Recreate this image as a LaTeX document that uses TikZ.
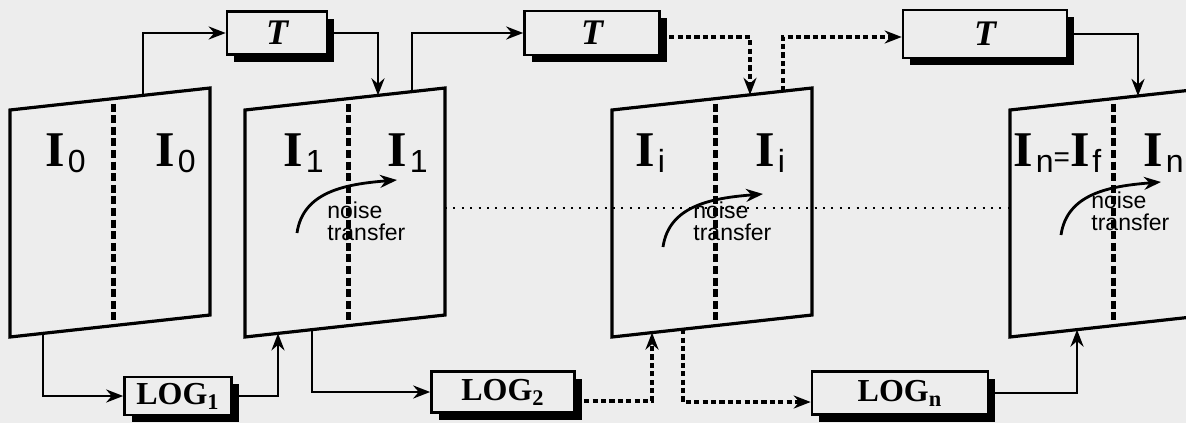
\documentclass[tikz,border=0pt]{standalone}
\usepackage{fontspec}
\setmainfont{Liberation Serif}
\setsansfont{Liberation Sans}
\usetikzlibrary{calc,
	arrows.meta,
	shadows}
\definecolor{paper}{gray}{0.93}
\tikzstyle{pnl}=[line width=1.6pt, line join=miter]
\tikzstyle{box}=[draw, line width=1.3pt, fill=paper, inner sep=0,
		general shadow={fill=black, shadow xshift=3.5pt, shadow yshift=-3.5pt},
		font=\fontsize{16}{16}\selectfont\bfseries]
\tikzstyle{tbox}=[box, font=\fontsize{18}{18}\selectfont\bfseries\itshape]
\tikzstyle{conn}=[line width=1.4pt, -{Stealth[length=8.5pt,width=6.5pt]}]
\tikzstyle{dconn}=[line width=2.4pt, dash pattern=on 2.6pt off 1.6pt,
		-{Stealth[length=8.5pt,width=6.5pt]}]
\tikzstyle{divl}=[line width=2.5pt, dash pattern=on 4pt off 1.8pt]
\tikzstyle{hdot}=[line width=1pt, dash pattern=on 1pt off 3.2pt]
\tikzstyle{lab}=[anchor=base west, inner sep=0, font=\fontsize{25}{25}\selectfont]
\tikzstyle{nz}=[anchor=base west, inner sep=0, align=left,
		font=\fontsize{11.5}{11}\selectfont\sffamily]
\newcommand{\Isub}[1]{\textbf{I}\hspace{1.5pt}\raisebox{-3pt}{\fontsize{16}{16}\selectfont\sffamily #1}}

\begin{document}
\begin{tikzpicture}[x=0.5pt, y=-0.5pt]
	\useasboundingbox (0,0) rectangle (1186,423);
	\fill[paper] (0,0) rectangle (1186,423);
	\clip (0,0) rectangle (1186,423);
	% the four image panels
	\foreach \p/\x in {0/10, 1/245, i/612, n/1010}{
		\coordinate (p\p-tl) at (\x,110);
		\coordinate (p\p-tr) at (\x+200,88);
		\coordinate (p\p-br) at (\x+200,315);
		\coordinate (p\p-bl) at (\x,337);
		\draw[pnl] (p\p-tl) -- (p\p-tr) -- (p\p-br) -- (p\p-bl) -- cycle;
		\draw[divl] ($(p\p-tl)!0.515!(p\p-tr)+(0,5)$) -- ($(p\p-bl)!0.515!(p\p-br)+(0,-4)$);
	}
	\node[lab] (l0a) at (45,166) {\Isub{0}};
	\node[lab] (l0b) at (155,166) {\Isub{0}};
	\node[lab] (l1a) at (283,166) {\Isub{1}};
	\node[lab] (l1b) at (387,166) {\Isub{1}};
	\node[lab] (lia) at (635,166) {\Isub{i}};
	\node[lab] (lib) at (755,166) {\Isub{i}};
	\node[lab] (lna) at (1013,166) {\Isub{n}{\fontsize{14}{14}\selectfont\sffamily=}\Isub{f}};
	\node[lab] (lnb) at (1143,166) {\Isub{n}};
	% noise transfer
	\foreach \p/\sx/\sy/\ty in {1/297/233/240, i/663/247/240, n/1061/235/230}{
		\coordinate (ns\p) at (\sx,\sy);
		\coordinate (ne\p) at (\sx+100,\sy-53);
		\draw[conn] (ns\p) .. controls +(6,-42) and +(-50,4) .. (ne\p);
		\node[nz] (nt\p) at (\sx+30,\ty) {noise\\transfer};
	}
	\coordinate (h1) at ($(p1-tr)!0.53!(p1-br)$);
	\draw[hdot] (h1) -- (h1 -| pn-tl);
	% boxes
	\node[tbox, minimum width=50pt, minimum height=21.5pt] (T1) at (277,33) {T};
	\node[tbox, minimum width=67.5pt, minimum height=22pt] (T2) at (592,33) {T};
	\node[tbox, minimum width=82pt, minimum height=24pt] (T3) at (985,34) {T};
	\node[box, minimum width=53.5pt, minimum height=19pt] (LOG1) at (178,396) {LOG\textsubscript{1}};
	\node[box, minimum width=71.5pt, minimum height=20.5pt] (LOG2) at (503,392) {LOG\textsubscript{2}};
	\node[box, minimum width=88pt, minimum height=21.5pt] (LOGn) at (900,393) {LOG\textsubscript{n}};
	% connector ends on the panels
	\coordinate (p0-up) at ($(p0-tl)!0.665!(p0-tr)$);
	\coordinate (p1-in) at ($(p1-tl)!0.665!(p1-tr)$);
	\coordinate (p1-up) at ($(p1-tl)!0.835!(p1-tr)$);
	\coordinate (pi-in) at ($(pi-tl)!0.69!(pi-tr)$);
	\coordinate (pi-up) at ($(pi-tl)!0.855!(pi-tr)$);
	\coordinate (pn-in) at ($(pn-tl)!0.64!(pn-tr)$);
	\coordinate (p0-dn) at ($(p0-bl)!0.165!(p0-br)$);
	\coordinate (p1-bi) at ($(p1-bl)!0.165!(p1-br)$);
	\coordinate (p1-dn) at ($(p1-bl)!0.335!(p1-br)$);
	\coordinate (pi-bi) at ($(pi-bl)!0.2!(pi-br)$);
	\coordinate (pi-dn) at ($(pi-bl)!0.355!(pi-br)$);
	\coordinate (pn-bi) at ($(pn-bl)!0.335!(pn-br)$);
	% connectors
	\draw[conn] (p0-up) |- (T1);
	\draw[conn] (T1) -| (p1-in);
	\draw[conn] (p1-up) |- (T2);
	\draw[dconn] ([yshift=-2pt]T2.east) -| (pi-in);
	\draw[dconn] (pi-up) |- ([yshift=-1.5pt]T3.west);
	\draw[conn] (T3) -| (pn-in);
	\draw[conn] (p0-dn) |- (LOG1);
	\draw[conn] (LOG1) -| (p1-bi);
	\draw[conn] (p1-dn) |- (LOG2);
	\draw[dconn] ([yshift=-4.5pt]LOG2.east) -| (pi-bi);
	\draw[dconn] (pi-dn) |- ([yshift=-4.5pt]LOGn.west);
	\draw[conn] (LOGn) -| (pn-bi);
\end{tikzpicture}
\end{document}
